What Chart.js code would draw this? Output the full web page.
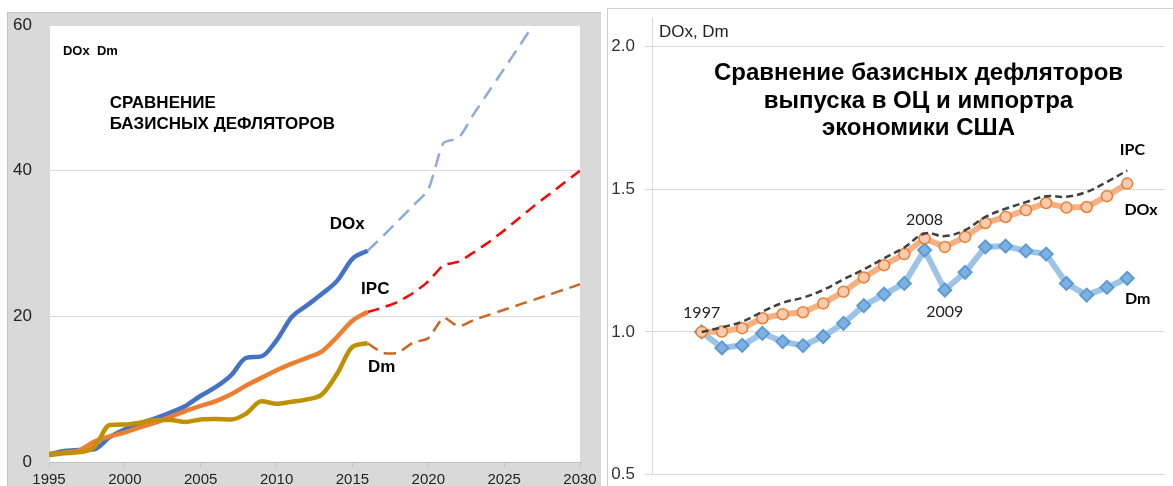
<!DOCTYPE html>
<html>
<head>
<meta charset="utf-8">
<script src="https://cdn.jsdelivr.net/npm/chart.js@4.4.1/dist/chart.umd.min.js"></script>
<style>
  body { margin: 0; background: #fff; width: 1173px; height: 486px; overflow: hidden; position: relative; }
  #boxL { position: absolute; left: 7px; top: 12px; width: 593px; height: 480px; background: #d9d9d9;
          border-top: 1px solid #c4c4c4; border-left: 1px solid #c4c4c4; }
  #boxR { position: absolute; left: 607px; top: 8px; width: 580px; height: 490px;
          border-top: 1px solid #d0d0d0; border-left: 1px solid #d0d0d0; }
  #cL { position: absolute; left: 0; top: 0; }
  #cR { position: absolute; left: 608px; top: 9px; }
</style>
</head>
<body>
<div id="boxL"></div>
<div id="boxR"></div>
<canvas id="cL" width="600" height="486"></canvas>
<canvas id="cR" width="565" height="477"></canvas>
<script>
// left chart: history 1995-2016, projection 2016-2030
const histYears = [1995, 1996, 1997, 1998, 1999, 2000, 2001, 2002, 2003, 2004, 2005,
                   2006, 2007, 2008, 2009, 2010, 2011, 2012, 2013, 2014, 2015, 2016];
const doxHist = [1.05, 1.5, 1.64, 1.75, 3.4, 4.5, 5.3, 6.0, 6.8, 7.7, 9.1,
                 10.3, 11.9, 14.3, 14.5, 16.7, 19.9, 21.5, 23.1, 24.9, 27.9, 29.0];
const ipcHist = [1.05, 1.3, 1.6, 2.8, 3.5, 4.07, 4.75, 5.4, 6.2, 7.0, 7.7,
                 8.35, 9.3, 10.5, 11.55, 12.6, 13.5, 14.3, 15.2, 17.2, 19.4, 20.6];
const dmHist = [0.95, 1.2, 1.35, 2.1, 5.07, 5.15, 5.4, 5.75, 5.75, 5.5, 5.85,
                5.9, 5.85, 6.65, 8.35, 8.0, 8.27, 8.6, 9.3, 12.15, 15.8, 16.3];

const projYears = [2016, 2017, 2018, 2019, 2020, 2021, 2022, 2023,
                   2024, 2025, 2026, 2027, 2028, 2029, 2030];
const doxProj = [29.0, 31.0, 33.1, 35.2, 37.4, 43.8, 44.5, 47.8, 50.9, 54.0, 57.1, 60.3];
const ipcProj = [20.6, 21.2, 22.0, 23.2, 24.8, 27.0, 27.5, 28.8, 30.2, 31.8, 33.5, 35.2, 36.8, 38.4, 40.0];
const dmProj = [16.3, 15.0, 15.0, 16.4, 17.0, 19.8, 18.6, 19.5, 20.2, 20.9, 21.6, 22.3, 23.0, 23.7, 24.4];

const leftYTicks = [0, 20, 40, 60];
const leftXTicks = [1995, 2000, 2005, 2010, 2015, 2020, 2025, 2030];

// right chart: USA 1997-2018
const usYears = [1997, 1998, 1999, 2000, 2001, 2002, 2003, 2004, 2005, 2006, 2007,
                 2008, 2009, 2010, 2011, 2012, 2013, 2014, 2015, 2016, 2017, 2018];
const usDm = [1.00, 0.944, 0.953, 0.995, 0.966, 0.952, 0.984, 1.030, 1.092, 1.132, 1.170,
              1.287, 1.147, 1.209, 1.298, 1.301, 1.284, 1.273, 1.170, 1.129, 1.156, 1.188];
const usDox = [1.00, 1.001, 1.013, 1.048, 1.062, 1.069, 1.100, 1.141, 1.191, 1.234, 1.273,
               1.328, 1.298, 1.333, 1.382, 1.403, 1.427, 1.452, 1.436, 1.438, 1.476, 1.520];
const usIpc = [1.00, 1.016, 1.036, 1.071, 1.102, 1.120, 1.147, 1.184, 1.219, 1.258, 1.296,
               1.345, 1.336, 1.357, 1.403, 1.432, 1.455, 1.476, 1.474, 1.491, 1.526, 1.566];
const rightYTicks = [0.5, 1.0, 1.5, 2.0];

const pts = (xs, ys) => ys.map((v, i) => ({ x: xs[i], y: v }));

const bold = (px, fam) => 'bold ' + px + 'px ' + (fam || '"Liberation Sans", Arial, sans-serif');
const reg = (px, fam) => px + 'px ' + (fam || '"Liberation Sans", Arial, sans-serif');

const leftNotes = [
  { text: 'DOx  Dm', x: 1995.92, y: 56.4, font: bold(13) },
  { text: 'СРАВНЕНИЕ', x: 1999.0, y: 49.2, font: bold(17) },
  { text: 'БАЗИСНЫХ ДЕФЛЯТОРОВ', x: 1999.0, y: 46.4, font: bold(17) },
  { text: 'DOx', x: 2013.5, y: 32.6, font: bold(17) },
  { text: 'IPC', x: 2015.57, y: 23.7, font: bold(17) },
  { text: 'Dm', x: 2016.03, y: 13.0, font: bold(17) }
];
const rightNotes = [
  { text: 'DOx, Dm', x: 1994.89, y: 2.051, font: reg(17), color: '#222' },
  { text: 'Сравнение базисных дефляторов', x: 2007.7, y: 1.905, font: bold(24), align: 'center' },
  { text: 'выпуска в ОЦ и импортра', x: 2007.7, y: 1.810, font: bold(24), align: 'center' },
  { text: 'экономики США', x: 2007.7, y: 1.715, font: bold(24), align: 'center' },
  { text: '1997', x: 1997.0, y: 1.066, font: reg(16, 'Lato'), align: 'center', color: '#222' },
  { text: '2008', x: 2008.0, y: 1.3945, font: reg(16, 'Lato'), align: 'center', color: '#222' },
  { text: '2009', x: 2009.0, y: 1.0706, font: reg(16, 'Lato'), align: 'center', color: '#222' },
  { text: 'IPC', x: 2018.26, y: 1.640, font: bold(16, 'Lato'), align: 'center' },
  { text: 'DOx', x: 2018.68, y: 1.4296, font: bold(16, 'Lato'), align: 'center' },
  { text: 'Dm', x: 2018.52, y: 1.1176, font: bold(16, 'Lato'), align: 'center' }
];

const notesPlugin = {
  id: 'notes',
  afterDatasetsDraw(chart, args, opts) {
    const { ctx, scales: { x, y } } = chart;
    ctx.save();
    (opts.items || []).forEach(n => {
      ctx.font = n.font;
      ctx.fillStyle = n.color || '#000';
      ctx.textAlign = n.align || 'left';
      ctx.textBaseline = 'middle';
      ctx.fillText(n.text, x.getPixelForValue(n.x), y.getPixelForValue(n.y));
    });
    ctx.restore();
  }
};

const plotBg = {
  id: 'plotBg',
  beforeDraw(chart) {
    const { ctx, chartArea: a } = chart;
    ctx.save();
    ctx.fillStyle = '#fff';
    ctx.fillRect(a.left, a.top, a.right - a.left, a.bottom - a.top);
    ctx.restore();
  }
};

const fixWidth = w => scale => { scale.width = w; scale.paddingTop = 0; scale.paddingBottom = 0; };
const fixHeight = h => scale => { scale.height = h; scale.paddingLeft = 0; scale.paddingRight = 0; };

const solid = (label, data, color) => ({
  label, data, borderColor: color, borderWidth: 4.5, pointRadius: 0,
  cubicInterpolationMode: 'monotone', fill: false
});
const dashed = (label, data, color, dash) => ({
  label, data, borderColor: color, borderWidth: 2.5, pointRadius: 0,
  borderDash: dash, tension: 0.2, fill: false
});

new Chart(document.getElementById('cL'), {
  type: 'line',
  data: {
    datasets: [
      solid('Dm', pts(histYears, dmHist), '#bf9000'),
      dashed('Dm прогноз', pts(projYears, dmProj), '#cc6622', [12, 7]),
      solid('IPC', pts(histYears, ipcHist), '#ed7d31'),
      dashed('IPC прогноз', pts(projYears, ipcProj), '#ff0000', [12, 7]),
      solid('DOx', pts(histYears, doxHist), '#4472c4'),
      dashed('DOx прогноз', pts(projYears, doxProj), '#8eaadb', [14, 8])
    ]
  },
  options: {
    responsive: false,
    animation: false,
    layout: { padding: { top: 25, right: 20, left: 0, bottom: 0 } },
    scales: {
      x: {
        type: 'linear', min: 1995, max: 2030,
        afterFit: fixHeight(24),
        afterBuildTicks: s => { s.ticks = leftXTicks.map(v => ({ value: v })); },
        grid: { drawOnChartArea: false, drawTicks: true, tickLength: 5, color: '#c0c0c0' },
        border: { color: '#c0c0c0' },
        ticks: { padding: 4, maxRotation: 0, color: '#222',
                 font: { family: '"Liberation Sans", Arial', size: 15 },
                 callback: v => String(v) }
      },
      y: {
        min: 0, max: 60,
        afterFit: fixWidth(49),
        afterBuildTicks: s => { s.ticks = leftYTicks.map(v => ({ value: v })); },
        grid: { color: '#d9d9d9', tickLength: 6 },
        border: { color: '#d9d9d9' },
        ticks: { padding: 11, color: '#222',
                 font: { family: '"Liberation Sans", Arial', size: 17 } }
      }
    },
    plugins: { legend: { display: false }, tooltip: { enabled: false }, notes: { items: leftNotes } }
  },
  plugins: [plotBg, notesPlugin]
});

new Chart(document.getElementById('cR'), {
  type: 'line',
  data: {
    datasets: [
      { label: 'IPC', data: pts(usYears, usIpc), borderColor: '#404040', borderWidth: 2.5,
        borderDash: [7, 4], pointRadius: 0, tension: 0.4, fill: false },
      { label: 'DOx', data: pts(usYears, usDox), borderColor: '#f4b183', borderWidth: 6,
        pointStyle: 'circle', pointRadius: 5.5, pointBackgroundColor: '#f8cbad',
        pointBorderColor: '#ed7d31', pointBorderWidth: 1.5, tension: 0, fill: false },
      { label: 'Dm', data: pts(usYears, usDm), borderColor: '#9dc3e6', borderWidth: 6,
        pointStyle: 'rectRot', pointRadius: 6.5, pointBackgroundColor: '#7eb1e1',
        pointBorderColor: '#5b9bd5', pointBorderWidth: 2, tension: 0, fill: false }
    ]
  },
  options: {
    responsive: false,
    animation: false,
    layout: { padding: { top: 9.2, right: 0, left: 0, bottom: 11.5 } },
    scales: {
      x: { type: 'linear', min: 1994.55, max: 2019.84, display: false },
      y: {
        min: 0.5, max: 2.1,
        afterFit: fixWidth(44),
        afterBuildTicks: s => { s.ticks = rightYTicks.map(v => ({ value: v })); },
        grid: { color: '#d9d9d9', tickLength: 7 },
        border: { color: '#d9d9d9' },
        ticks: { padding: 10, color: '#333',
                 font: { family: '"Liberation Sans", Arial', size: 17 },
                 callback: v => v.toFixed(1) }
      }
    },
    plugins: { legend: { display: false }, tooltip: { enabled: false }, notes: { items: rightNotes } }
  },
  plugins: [notesPlugin]
});
</script>
</body>
</html>
